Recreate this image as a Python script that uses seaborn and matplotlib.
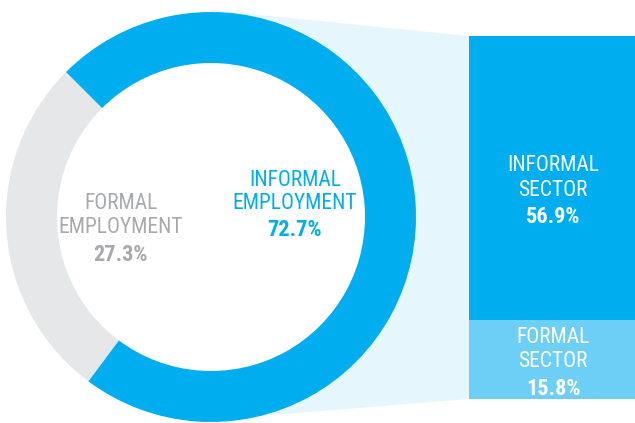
import matplotlib
matplotlib.use("Agg")
import matplotlib.pyplot as plt
from matplotlib import font_manager
from matplotlib.patches import Polygon, Circle
import seaborn as sns

# Employment split (donut) and breakdown of informal employment (stacked bar)
employment_labels = ["FORMAL\nEMPLOYMENT", "INFORMAL\nEMPLOYMENT"]
employment_share = [27.3, 72.7]
sector_labels = ["INFORMAL\nSECTOR", "FORMAL\nSECTOR"]
sector_share = [56.9, 15.8]

BLUE = "#00AEEF"
RING_GREY = "#E6E7E8"
LIGHT_BLUE = "#6DCFF6"
HALO = "#E6F6FD"
TEXT_GREY = "#A7A9AC"

sns.set_theme(style="white")

# Pick a narrow sans face for the labels
installed = {f.name for f in font_manager.fontManager.ttflist}
FONT = dict(family="DejaVu Sans", stretch="condensed")
for name in ("Liberation Sans Narrow", "Roboto Condensed", "Open Sans Condensed"):
    if name in installed:
        FONT = dict(family=name, stretch="normal")
        break
plt.rcParams["font.family"] = [FONT["family"], "DejaVu Sans"]
plt.rcParams["font.stretch"] = FONT["stretch"]

W, H = 635, 423
fig = plt.figure(figsize=(W / 100, H / 100), dpi=100)
fig.patch.set_facecolor("white")

# Donut geometry (pixel units, y measured upward)
cx, cy, r_out, ring = 211, H - 217, 205, 51
bar_left, bar_top, bar_bottom = 469, H - 36, H - 399

# Stacked bar: total informal employment, formal-sector part overlaid at the bottom
bax = fig.add_axes([bar_left / W, bar_bottom / H, (W - bar_left) / W,
                    (bar_top - bar_bottom) / H])
total = sum(sector_share)
sns.barplot(x=["informal"], y=[total], color=BLUE, saturation=1, width=1,
            linewidth=0, ax=bax)
sns.barplot(x=["informal"], y=[sector_share[1]], color=LIGHT_BLUE, saturation=1,
            width=1, linewidth=0, ax=bax)
bax.set_xlim(-0.5, 0.5)
bax.set_ylim(0, total)
bax.axis("off")
bax.set_zorder(1)

ax = fig.add_axes([0, 0, 1, 1])
ax.set_zorder(2)
ax.patch.set_visible(False)
ax.axis("off")

# Pale funnel joining the donut to the stacked bar
ax.add_patch(Polygon([(cx, cy + r_out + 2), (bar_left, bar_top),
                      (bar_left, bar_bottom), (cx, cy - r_out + 2)],
                     closed=True, facecolor=HALO, edgecolor="none", zorder=0))
ax.add_patch(Circle((cx, cy), r_out - ring + 1, facecolor="white",
                    edgecolor="none", zorder=0.5))

ax.pie(employment_share, colors=[RING_GREY, BLUE], startangle=135,
       counterclock=True, center=(cx, cy), radius=r_out,
       wedgeprops=dict(width=ring, linewidth=0))
ax.set_xlim(0, W)
ax.set_ylim(0, H)
ax.set_aspect("auto")


def label(x, baselines, text, value, color, size=15.5):
    l1, l2 = text.split("\n")
    kw = dict(ha="center", va="baseline", color=color, zorder=5)
    ax.text(x, H - baselines[0], l1, fontsize=size, **kw)
    ax.text(x, H - baselines[1], l2, fontsize=size, **kw)
    ax.text(x, H - baselines[2], f"{value:.1f}%", fontsize=size + 0.5,
            fontweight="bold", **kw)


label(121, (209, 233, 261), employment_labels[0], employment_share[0], TEXT_GREY)
label(295, (186, 209, 236), employment_labels[1], employment_share[1], BLUE)
label(553, (171, 196, 223), sector_labels[0], sector_share[0], "white")
label(553, (343, 367, 395), sector_labels[1], sector_share[1], "white")

fig.savefig("out.png", dpi=100, facecolor="white")
